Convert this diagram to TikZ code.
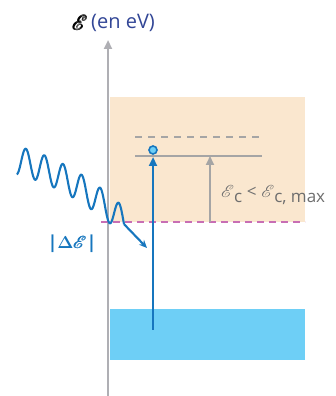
\documentclass[tikz,border=0pt]{standalone}
\usepackage{amsmath}
\usepackage{mathrsfs}
\usepackage{fontspec}
\setmainfont{Open Sans}
\usetikzlibrary{arrows.meta}
\definecolor{axisgray}{RGB}{175,175,180}
\definecolor{lvlgray}{RGB}{165,165,165}
\definecolor{txtgray}{RGB}{110,110,110}
\definecolor{beige}{RGB}{250,231,207}
\definecolor{cyanband}{RGB}{110,207,246}
\definecolor{elblue}{RGB}{22,118,190}
\definecolor{magen}{RGB}{200,110,180}
\definecolor{navy}{RGB}{50,70,150}
\tikzset{
  lvl/.style={draw=lvlgray,line width=2pt},
  arr/.style={-{Triangle[length=9pt,width=8pt]}},
  photon/.style={draw=elblue,line width=2.1pt,line join=round},
}
\newcommand{\scE}[1]{\fontsize{#1}{#1}\selectfont$\mathscr{E}$}
\begin{document}
\begin{tikzpicture}[x=1pt,y=1pt]
\useasboundingbox (0,0) rectangle (335,396);
% bands
\fill[beige] (110,174) rectangle (305,299);
\fill[cyanband] (110,36) rectangle (305,87);
% axis
\draw[draw=axisgray,line width=2.5pt,arr] (108,0) -- (108,356);
\node[anchor=east,inner sep=0pt] (E) at (88,373) {\pmb{\scE{21}}};
\node[anchor=west,inner sep=0pt,text=navy] (unit) at (91,373) {\fontsize{20}{22}\selectfont(en eV)};
% levels
\draw[magen,line width=2pt,dash pattern=on 7pt off 5pt] (101,174) -- (305,174);
\draw[lvl,dash pattern=on 7pt off 6pt] (135,259) -- (262,259);
\coordinate (lvlL) at (135,240);
\coordinate (lvlR) at (262,240);
\draw[lvl] (lvlL) -- (lvlR);
\coordinate (gA) at (210,174);
\coordinate (gB) at (210,240);
\draw[lvl,arr,draw=lvlgray,fill=lvlgray] (gA) -- (gB);
\node[anchor=west,inner sep=0pt,text=txtgray] (Ec) at (221,201) {\scE{19}\raisebox{-5pt}{\fontsize{17}{17}\selectfont c}\fontsize{17}{17}\selectfont\;<\;\scE{19}\raisebox{-5pt}{\fontsize{17}{17}\selectfont c, max}};
% electron transition
\coordinate (eA) at (153,66);
\coordinate (eB) at (153,239);
\draw[elblue,line width=2.6pt,arr] (eA) -- (eB);
\node[circle,draw=elblue,fill=cyanband,line width=1.6pt,minimum size=8pt,inner sep=0pt] (el) at (153,246) {};
% photon
\coordinate (wT) at (147,148);
\draw[photon] plot[domain=-46.3:61,samples=220,smooth] ({63+\x},{218-0.525*\x-0.00309*\x*\x+14*cos(19.355*\x)}) coordinate (wEnd);
\draw[photon,-{Stealth[length=8pt,width=7pt]}] (wEnd) -- (wT);
\node[text=elblue,inner sep=0pt] (dE) at (72,152) {\fontsize{18}{20}\selectfont\textbf{|}$\boldsymbol{\Delta}$\pmb{$\mathscr{E}$}\textbf{|}};
\end{tikzpicture}
\end{document}
